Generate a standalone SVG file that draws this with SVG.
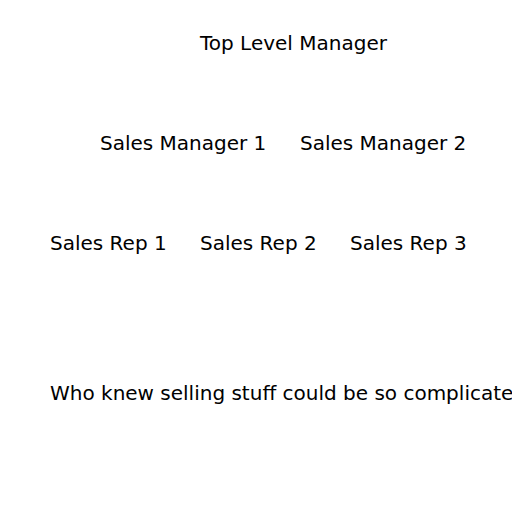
<svg xmlns="http://www.w3.org/2000/svg" width="512" height="512" viewBox="0 0 512 512">
<style>
text { font-family: "DejaVu Sans", sans-serif; font-size: 20px; fill: #000; }
</style>
<rect width="512" height="512" fill="#fff"/>
<g id="top-level-manager"><text x="200" y="50">Top Level Manager</text></g>
<g id="sales-manager-1"><text x="100" y="150">Sales Manager 1</text></g>
<g id="sales-manager-2"><text x="300" y="150">Sales Manager 2</text></g>
<g id="sales-rep-1"><text x="50" y="250">Sales Rep 1</text></g>
<g id="sales-rep-2"><text x="200" y="250">Sales Rep 2</text></g>
<g id="sales-rep-3"><text x="350" y="250">Sales Rep 3</text></g>
<g id="caption"><text x="50" y="400">Who knew selling stuff could be so complicated</text></g>
</svg>
